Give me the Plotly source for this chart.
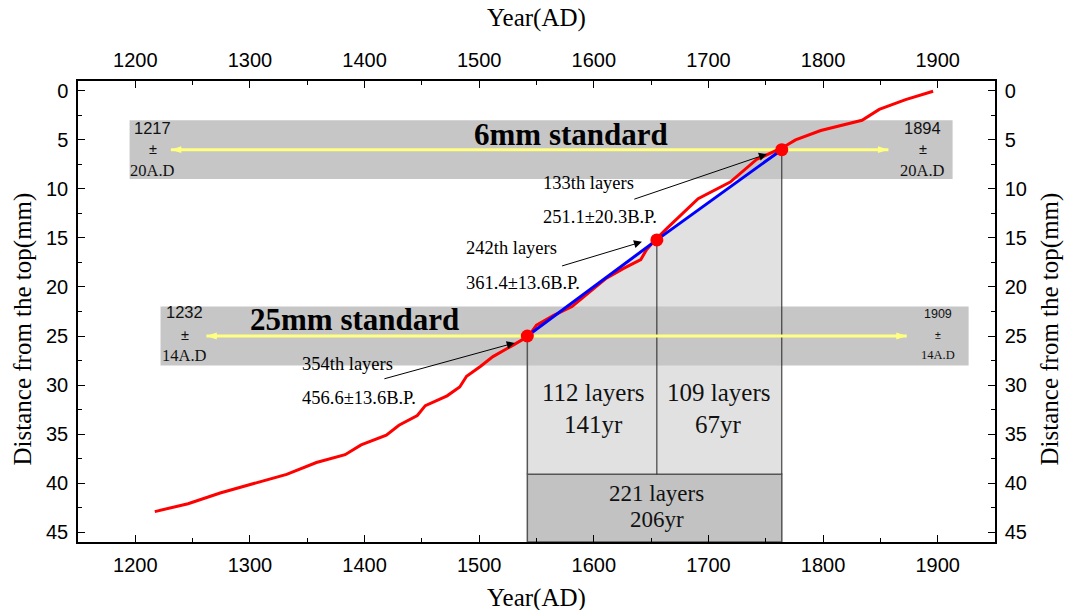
import plotly.graph_objects as go

# ---------------- data ----------------
red_year = [1217, 1246, 1274, 1332, 1358, 1383, 1397, 1419, 1430, 1446, 1453, 1472,
            1483, 1489, 1501, 1512, 1530, 1543, 1550, 1565, 1581, 1597, 1611, 1626,
            1641, 1646, 1652, 1664, 1676, 1691, 1719, 1742, 1757, 1766, 1776, 1798,
            1834, 1849, 1872, 1896]
red_depth = [42.9, 42.1, 41.0, 39.1, 37.9, 37.1, 36.1, 35.1, 34.1, 33.1, 32.1, 31.1,
             30.2, 29.1, 28.1, 27.1, 25.9, 25.0, 23.9, 22.9, 22.0, 20.5, 19.1, 18.1,
             17.2, 16.2, 15.4, 14.0, 12.7, 11.0, 9.3, 7.0, 6.2, 5.7, 5.0, 4.05,
             3.0, 1.9, 0.9, 0.05]

anchor_year = [1542, 1655, 1764]
anchor_depth = [25.0, 15.2, 6.0]

# standard bands: depth range and year extent
band6_depth = [3.0, 9.0]
band6_year = [1195, 1913]
band25_depth = [22.0, 28.0]
band25_year = [1222, 1927]
# yellow arrows (year range) at standards' depths
arrow6_year = [1231, 1857]
arrow25_year = [1262, 1873]
box_bottom_depth = 39.1

x_ticks = [1200, 1300, 1400, 1500, 1600, 1700, 1800, 1900]
y_ticks = [0, 5, 10, 15, 20, 25, 30, 35, 40, 45]
x_range = [1150, 1950]
y_range = [46, -1]

layer_labels = [
    ("133th layers", "251.1±20.3B.P.", 1554, 9.4, 12.85, (1634, 11.1), (1751, 6.45)),
    ("242th layers", "361.4±13.6B.P.", 1487, 16.05, 19.6, (1571, 17.9), (1642, 15.4)),
    ("354th layers", "456.6±13.6B.P.", 1344, 27.9, 31.35, (1416, 29.4), (1531, 25.7)),
]

SERIF = "Liberation Serif"
SANS = "Liberation Sans"

fig = go.Figure()

# light grey region between blue line and box
path = "M {},{} L {},{} L {},{} L {},{} L {},{} Z".format(
    anchor_year[0], anchor_depth[0], anchor_year[1], anchor_depth[1],
    anchor_year[2], anchor_depth[2], anchor_year[2], box_bottom_depth,
    anchor_year[0], box_bottom_depth)
shapes = [
    dict(type="path", path=path, xref="x", yref="y", fillcolor="#e1e1e1",
         line=dict(width=0), layer="below"),
    dict(type="rect", xref="x", yref="y", x0=band6_year[0], x1=band6_year[1],
         y0=band6_depth[0], y1=band6_depth[1], fillcolor="#c6c6c6",
         line=dict(width=0), layer="below"),
    dict(type="rect", xref="x", yref="y", x0=band25_year[0], x1=band25_year[1],
         y0=band25_depth[0], y1=band25_depth[1], fillcolor="#c6c6c6",
         line=dict(width=0), layer="below"),
    dict(type="rect", xref="x", yref="y", x0=anchor_year[0], x1=anchor_year[2],
         y0=box_bottom_depth, y1=y_range[0], fillcolor="#c2c2c2",
         line=dict(width=1.5, color="#555555"), layer="below"),
    dict(type="line", xref="x", yref="y", x0=anchor_year[0], x1=anchor_year[0],
         y0=anchor_depth[0], y1=box_bottom_depth, line=dict(width=1.5, color="#555555"),
         layer="below"),
    dict(type="line", xref="x", yref="y", x0=anchor_year[1], x1=anchor_year[1],
         y0=anchor_depth[1], y1=box_bottom_depth, line=dict(width=1, color="#222222"),
         layer="below"),
    dict(type="line", xref="x", yref="y", x0=anchor_year[2], x1=anchor_year[2],
         y0=anchor_depth[2], y1=box_bottom_depth, line=dict(width=1, color="#222222"),
         layer="below"),
]

# yellow double arrows
for yrs, dep in ((arrow6_year, anchor_depth[2]), (arrow25_year, anchor_depth[0])):
    fig.add_trace(go.Scatter(x=yrs, y=[dep, dep], mode="lines",
                             line=dict(color="#ffff80", width=3),
                             hoverinfo="skip", showlegend=False))
    fig.add_trace(go.Scatter(x=yrs, y=[dep, dep], mode="markers",
                             marker=dict(symbol="arrow", angle=[-90, 90], size=11,
                                         color="#ffff80", line=dict(width=0)),
                             hoverinfo="skip", showlegend=False))

# red depth-age curve
fig.add_trace(go.Scatter(x=red_year, y=red_depth, mode="lines",
                         line=dict(color="#ff0000", width=3), showlegend=False))
# blue linear line
fig.add_trace(go.Scatter(x=anchor_year, y=anchor_depth, mode="lines",
                         line=dict(color="#0000ff", width=3), showlegend=False))
# red anchor dots
fig.add_trace(go.Scatter(x=anchor_year, y=anchor_depth, mode="markers",
                         marker=dict(color="#ff0000", size=13), showlegend=False))
# invisible trace for secondary axes
fig.add_trace(go.Scatter(x=x_range, y=[y_range[1], y_range[0]], xaxis="x2", yaxis="y2",
                         mode="markers", marker=dict(opacity=0), hoverinfo="skip",
                         showlegend=False))

ann = []
# standard labels
ann.append(dict(x=1580, y=4.5, xref="x", yref="y", text="<b>6mm standard</b>",
                showarrow=False, font=dict(family=SERIF, size=31, color="black")))
ann.append(dict(x=1391, y=23.3, xref="x", yref="y", text="<b>25mm standard</b>",
                showarrow=False, font=dict(family=SERIF, size=31, color="black")))

# band end labels
band_texts = [
    ("1217", "20A.D", 1215, [3.8, 5.95, 8.1], 16.5),
    ("1894", "20A.D", 1887, [3.8, 5.95, 8.1], 16.5),
    ("1232", "14A.D", 1243, [22.6, 24.9, 26.95], 16.5),
    ("1909", "14A.D", 1900, [22.75, 24.9, 26.95], 12.5),
]
for top, bot, xc, ys, fs in band_texts:
    ann.append(dict(x=xc, y=ys[0], xref="x", yref="y", text=top, showarrow=False,
                    font=dict(family=SANS, size=fs, color="#111")))
    ann.append(dict(x=xc, y=ys[1], xref="x", yref="y", text="±", showarrow=False,
                    font=dict(family=SANS, size=fs - 2, color="#111")))
    ann.append(dict(x=xc, y=ys[2], xref="x", yref="y", text=bot, showarrow=False,
                    font=dict(family=SERIF, size=fs, color="#111")))

# layer labels with black arrows
for l1, l2, xl, y1, y2, tail, head in layer_labels:
    ann.append(dict(x=xl, y=y1, xref="x", yref="y", text=l1, showarrow=False,
                    xanchor="left", font=dict(family=SERIF, size=18.5, color="black")))
    ann.append(dict(x=xl, y=y2, xref="x", yref="y", text=l2, showarrow=False,
                    xanchor="left", font=dict(family=SERIF, size=18.5, color="black")))
    ann.append(dict(x=head[0], y=head[1], ax=tail[0], ay=tail[1], xref="x", yref="y",
                    axref="x", ayref="y", text="", showarrow=True, arrowhead=2,
                    arrowsize=1.6, arrowwidth=1, arrowcolor="black"))

# box labels
box_texts = [
    ("112 layers", 1600, 30.8, 25), ("141yr", 1600, 34.05, 25),
    ("109 layers", 1709, 30.8, 25), ("67yr", 1709, 34.05, 25),
    ("221 layers", 1655, 41.05, 23), ("206yr", 1655, 43.7, 23),
]
for t, xc, yc, fs in box_texts:
    ann.append(dict(x=xc, y=yc, xref="x", yref="y", text=t, showarrow=False,
                    font=dict(family=SERIF, size=fs, color="#111")))

# axis titles
ttl = dict(family=SERIF, size=25, color="black")
ann.append(dict(x=0.5, y=0, xref="paper", yref="paper", yshift=-56, text="Year(AD)",
                showarrow=False, font=ttl, yanchor="middle"))
ann.append(dict(x=0.5, y=1, xref="paper", yref="paper", yshift=63, text="Year(AD)",
                showarrow=False, font=ttl, yanchor="middle"))
ann.append(dict(x=0, y=0.461, xref="paper", yref="paper", xshift=-55,
                text="Distance from the top(mm)", textangle=-90, showarrow=False,
                font=ttl, xanchor="center"))
ann.append(dict(x=1, y=0.461, xref="paper", yref="paper", xshift=55,
                text="Distance from the top(mm)", textangle=-90, showarrow=False,
                font=ttl, xanchor="center"))

tickfont = dict(family=SANS, size=20, color="black")
xcommon = dict(range=x_range, tickvals=x_ticks, ticks="inside", ticklen=7, tickwidth=1.3,
               tickcolor="black", showline=True, linecolor="black", linewidth=1.5,
               showgrid=False, zeroline=False, tickfont=tickfont,
               minor=dict(ticks="inside", dtick=50, tick0=1150, ticklen=4,
                          tickcolor="black", tickwidth=1.2))
ycommon = dict(range=y_range, tickvals=y_ticks, ticks="inside", ticklen=7, tickwidth=1.3,
               tickcolor="black", showline=True, linecolor="black", linewidth=1.5,
               showgrid=False, zeroline=False, tickfont=tickfont,
               minor=dict(ticks="inside", dtick=2.5, tick0=0, ticklen=4,
                          tickcolor="black", tickwidth=1.2))

fig.update_layout(
    width=1066, height=610, autosize=False,
    margin=dict(l=78, r=71, t=81, b=68),
    plot_bgcolor="white", paper_bgcolor="white",
    xaxis=dict(**xcommon, side="bottom", ticklabelstandoff=4),
    xaxis2=dict(**xcommon, side="top", overlaying="x", anchor="y", ticklabelstandoff=4),
    yaxis=dict(**ycommon, side="left", ticklabelstandoff=4),
    yaxis2=dict(**ycommon, side="right", overlaying="y", anchor="x", ticklabelstandoff=4),
    shapes=shapes, annotations=ann, showlegend=False,
)

fig.write_html("out.html", config={"displayModeBar": False},
               post_script="document.body.style.margin='0px';document.body.style.overflow='hidden';")
